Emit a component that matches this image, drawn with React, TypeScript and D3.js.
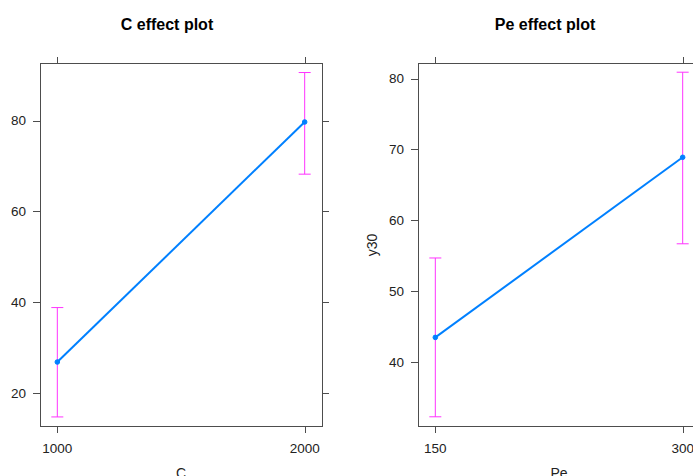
import React from 'react';
import * as d3 from 'd3';

// effect estimates with confidence limits
const cLevels = [1000, 2000];
const cFit = [26.8, 79.7];
const cLower = [14.7, 68.2];
const cUpper = [38.8, 90.6];
const cYTicks = [20, 40, 60, 80];
const cYDomain = [12.7, 92.7];

const peLevels = [150, 300];
const peFit = [43.5, 68.9];
const peLower = [32.3, 56.7];
const peUpper = [54.7, 80.9];
const peYTicks = [40, 50, 60, 70, 80];
const peYDomain = [31.0, 82.2];

const W = 693, H = 476;
const font = '"Liberation Sans", Arial, sans-serif';
const lineCol = '#0080ff', ciCol = '#ff33ff', boxCol = '#4d4d4d';

type PanelProps = {
  x0: number; x1: number; y0: number; y1: number;
  title: string; titleX: number; xlab: string; ylab?: string;
  levels: number[]; fit: number[]; lower: number[]; upper: number[];
  yTicks: number[]; yDomain: number[];
};

const Panel = ({x0, x1, y0, y1, title, titleX, xlab, ylab, levels, fit, lower, upper, yTicks, yDomain}: PanelProps) => {
  const lo = d3.min(levels)!, hi = d3.max(levels)!;
  const pad = (hi - lo) * 0.07;
  const x = d3.scaleLinear().domain([lo - pad, hi + pad]).range([x0, x1]);
  const y = d3.scaleLinear().domain(yDomain).range([y1, y0]);
  const line = d3.line<number>().x((d, i) => x(levels[i])).y(d => y(d));
  const cap = 6;
  return (
    <g>
      <text x={titleX} y={30} textAnchor="middle" style={{fontFamily: font, fontWeight: 'bold', fontSize: '16px'}}>{title}</text>
      <rect x={x0 + 0.5} y={y0 + 0.5} width={x1 - x0} height={y1 - y0} fill="none" stroke={boxCol} />
      {levels.map((l, i) => (
        <g key={'xt' + i}>
          <line x1={Math.round(x(l)) + 0.5} x2={Math.round(x(l)) + 0.5} y1={y0 + 0.5} y2={y0 - 6} stroke={boxCol} />
          <line x1={Math.round(x(l)) + 0.5} x2={Math.round(x(l)) + 0.5} y1={y1 + 0.5} y2={y1 + 7} stroke={boxCol} />
          <text x={x(l)} y={453} textAnchor="middle" style={{fontFamily: font, fontSize: '13.5px'}} fill="#222">{l}</text>
        </g>
      ))}
      {yTicks.map((t, i) => (
        <g key={'yt' + i}>
          <line x1={x0 + 0.5} x2={x0 - 7} y1={Math.round(y(t)) + 0.5} y2={Math.round(y(t)) + 0.5} stroke={boxCol} />
          <line x1={x1 + 0.5} x2={x1 + 7} y1={Math.round(y(t)) + 0.5} y2={Math.round(y(t)) + 0.5} stroke={boxCol} />
          <text x={x0 - 14} y={y(t)} dy="0.36em" textAnchor="end" style={{fontFamily: font, fontSize: '13.5px'}} fill="#222">{t}</text>
        </g>
      ))}
      <text x={(x0 + x1) / 2} y={478} textAnchor="middle" style={{fontFamily: font, fontSize: '14px'}} fill="#222">{xlab}</text>
      {ylab && (
        <text transform={`translate(${x0 - 41},245) rotate(-90)`} textAnchor="middle" style={{fontFamily: font, fontSize: '14px'}} fill="#222">{ylab}</text>
      )}
      {levels.map((l, i) => (
        <g key={'ci' + i} stroke={ciCol} strokeWidth={1}>
          <line x1={x(l)} x2={x(l)} y1={y(lower[i])} y2={y(upper[i])} />
          <line x1={x(l) - cap} x2={x(l) + cap} y1={y(lower[i])} y2={y(lower[i])} />
          <line x1={x(l) - cap} x2={x(l) + cap} y1={y(upper[i])} y2={y(upper[i])} />
        </g>
      ))}
      <path d={line(fit) || ''} fill="none" stroke={lineCol} strokeWidth={2} />
      {fit.map((f, i) => (
        <circle key={'pt' + i} cx={x(levels[i])} cy={y(f)} r={2.3} fill={lineCol} stroke={lineCol} strokeWidth={1} />
      ))}
    </g>
  );
};

export default function App() {
  return (
    <svg width={W} height={H} style={{position: 'absolute', left: 0, top: 0, background: '#fff'}}>
      <Panel x0={40} x1={322} y0={63} y1={426} title="C effect plot" titleX={167} xlab="C"
        levels={cLevels} fit={cFit} lower={cLower} upper={cUpper} yTicks={cYTicks} yDomain={cYDomain} />
      <Panel x0={418} x1={700} y0={63} y1={426} title="Pe effect plot" titleX={545} xlab="Pe" ylab="y30"
        levels={peLevels} fit={peFit} lower={peLower} upper={peUpper} yTicks={peYTicks} yDomain={peYDomain} />
    </svg>
  );
}
